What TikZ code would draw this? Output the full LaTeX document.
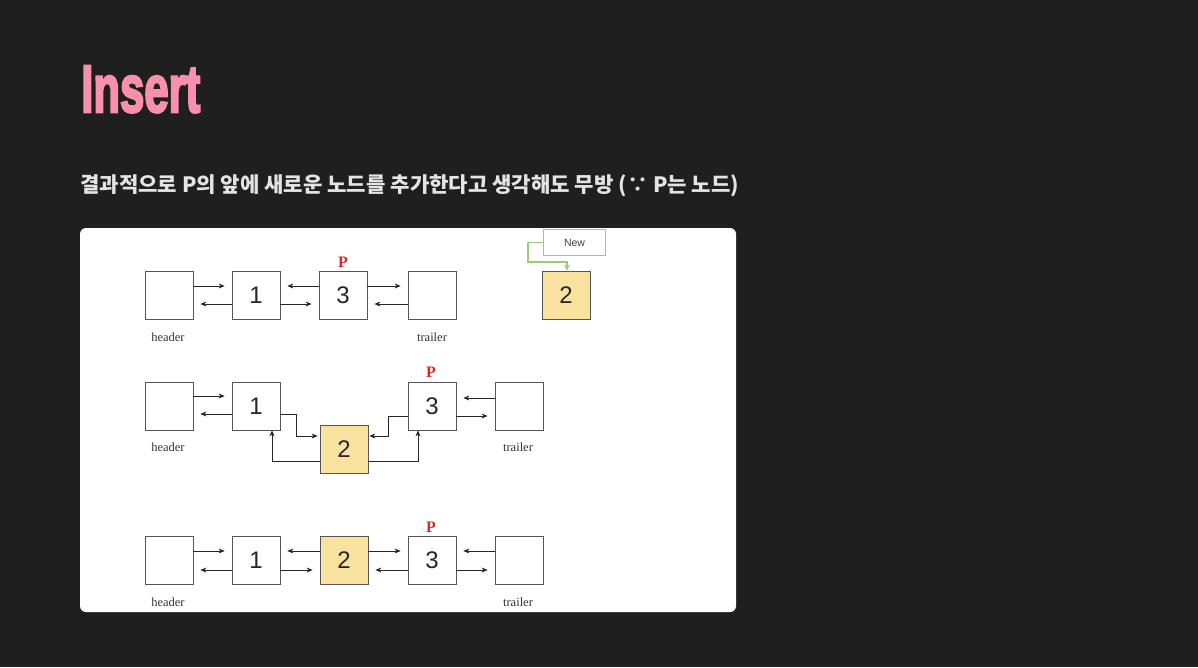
\documentclass[tikz,border=0pt]{standalone}
\usepackage{fontspec}
\usepackage{graphicx}
\usetikzlibrary{arrows.meta}
\setmainfont{Liberation Serif}
\newfontfamily\sansf{Liberation Sans}
\newfontfamily\heavyf[FakeBold=4]{Liberation Sans}
\newfontfamily\krf{Noto Sans CJK KR}
\definecolor{bg}{HTML}{1F1F1F}
\definecolor{pinkt}{HTML}{F88FAB}
\definecolor{subt}{HTML}{E4E4E4}
\definecolor{boxline}{HTML}{555555}
\definecolor{yel}{HTML}{F9E2A0}
\definecolor{redp}{HTML}{D42A2A}
\definecolor{grn}{HTML}{98CC78}
\tikzset{
  cell/.style={draw=boxline, line width=0.8pt, fill=white, minimum size=48pt, inner sep=0pt, font=\sansf\fontsize{24}{24}\selectfont, text=black!85},
  ycell/.style={cell, fill=yel},
  lbl/.style={font=\fontsize{12.5}{13}\selectfont, text=black!80, inner sep=0pt},
  plbl/.style={font=\bfseries\fontsize{16}{16}\selectfont, text=redp, inner sep=0pt},
  arr/.style={draw=black!85, line width=0.7pt, -{Stealth[length=6pt,width=5pt]}},
  sarr/.style={arr, shorten >=7pt},
  garr/.style={draw=grn, line width=1.4pt, -{Stealth[length=6pt,width=6pt]}},
}
\begin{document}
\begin{tikzpicture}[x=1pt,y=-1pt]
\fill[bg] (0,0) rectangle (1198,667);
\useasboundingbox (0,0) rectangle (1198,667);
\node[anchor=base west, inner sep=0pt, text=pinkt] (title) at (81,112) {\resizebox{119pt}{46pt}{\heavyf\bfseries Insert}};
\node[anchor=base west, inner sep=0pt, text=subt, font=\krf\bfseries\fontsize{21.1}{24}\selectfont] (sub) at (80,192.5) {결과적으로 P의 앞에 새로운 노드를 추가한다고 생각해도 무방 (∵ P는 노드)};
\fill[white, rounded corners=6pt] (80,228) rectangle (736,612);
% Row 1
\node[cell] (ah) at (169,295) {};
\node[cell] (a1) at (256,295) {1};
\node[cell] (a3) at (343,295) {3};
\node[cell] (at) at (432,295) {};
\node[ycell] (a2) at (566,295) {2};
\node[lbl] (ahl) at (168,337) {header};
\node[lbl] (atl) at (432,337) {trailer};
\node[plbl] (ap) at (343,262) {P};
\node[draw=grn, line width=1.4pt, fill=white, minimum width=62pt, minimum height=26pt, inner sep=0pt, font=\sansf\fontsize{10.5}{11}\selectfont, text=black!75] (new) at (574.5,242.5) {New};
\draw[garr] (new.west) -- (528,242.5) |- (567,262) -- (567,0 |- a2.north);
\draw[sarr] (ah.east |- 0,286) -- (a1.west |- 0,286);
\draw[sarr] (a1.west |- 0,304) -- (ah.east |- 0,304);
\draw[sarr] (a3.west |- 0,286) -- (a1.east |- 0,286);
\draw[sarr] (a1.east |- 0,304) -- (a3.west |- 0,304);
\draw[sarr] (a3.east |- 0,286) -- (at.west |- 0,286);
\draw[sarr] (at.west |- 0,304) -- (a3.east |- 0,304);
% Row 2
\node[cell] (bh) at (169,406) {};
\node[cell] (b1) at (256,406) {1};
\node[ycell] (b2) at (344,449) {2};
\node[cell] (b3) at (432,406) {3};
\node[cell] (bt) at (519,406) {};
\node[lbl] (bhl) at (168,447) {header};
\node[lbl] (btl) at (518,447) {trailer};
\node[plbl] (bp) at (431,372) {P};
\draw[sarr] (bh.east |- 0,396) -- (b1.west |- 0,396);
\draw[sarr] (b1.west |- 0,414) -- (bh.east |- 0,414);
\draw[arr, shorten >=2pt] (b1.east |- 0,414) -- (296,414) |- (b2.west |- 0,436);
\draw[arr, shorten >=1pt] (b3.west |- 0,416) -- (388,416) |- (b2.east |- 0,436);
\draw[arr] (b2.west |- 0,461) -| (272,0 |- b1.south);
\draw[arr] (b2.east |- 0,461) -| (418,0 |- b3.south);
\draw[sarr] (bt.west |- 0,398) -- (b3.east |- 0,398);
\draw[sarr] (b3.east |- 0,416) -- (bt.west |- 0,416);
% Row 3
\node[cell] (ch) at (169,560.5) {};
\node[cell] (c1) at (256,560.5) {1};
\node[ycell] (c2) at (344,560.5) {2};
\node[cell] (c3) at (432,560.5) {3};
\node[cell] (ct) at (519,560.5) {};
\node[lbl] (chl) at (168,602) {header};
\node[lbl] (ctl) at (518,602) {trailer};
\node[plbl] (cp) at (431,527) {P};
\draw[sarr] (ch.east |- 0,551) -- (c1.west |- 0,551);
\draw[sarr] (c1.west |- 0,570) -- (ch.east |- 0,570);
\draw[sarr] (c2.west |- 0,551) -- (c1.east |- 0,551);
\draw[sarr] (c1.east |- 0,570) -- (c2.west |- 0,570);
\draw[sarr] (c2.east |- 0,551) -- (c3.west |- 0,551);
\draw[sarr] (c3.west |- 0,570) -- (c2.east |- 0,570);
\draw[sarr] (ct.west |- 0,551) -- (c3.east |- 0,551);
\draw[sarr] (c3.east |- 0,570) -- (ct.west |- 0,570);
\end{tikzpicture}
\end{document}
